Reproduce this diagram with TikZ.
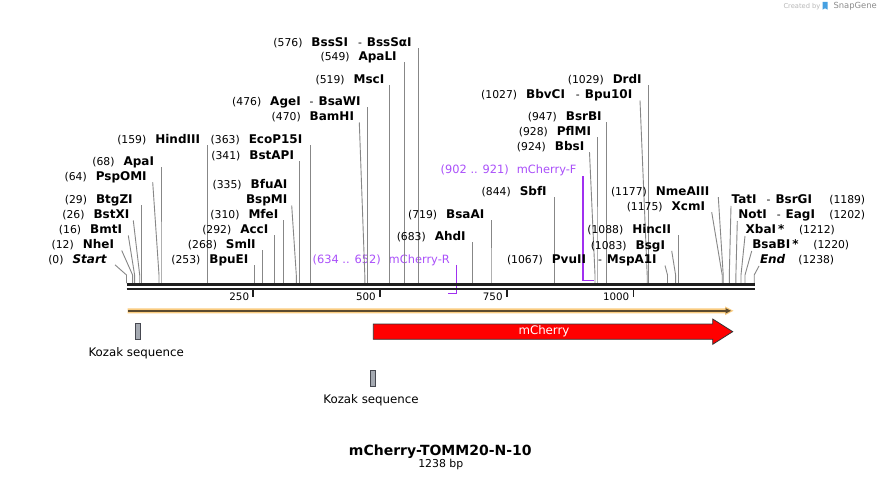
\documentclass[tikz,border=0pt]{standalone}
\usepackage{fontspec}
\setmainfont{DejaVu Sans}
\usetikzlibrary{calc}
\definecolor{conncol}{RGB}{135,135,135}
\definecolor{purp}{RGB}{160,48,240}
\definecolor{purptext}{RGB}{170,80,250}
\definecolor{orangeband}{RGB}{250,204,128}
\definecolor{brownline}{RGB}{92,74,46}
\definecolor{kozfill}{RGB}{165,170,178}
\definecolor{kozdraw}{RGB}{70,72,80}
\definecolor{sgblue}{RGB}{70,160,225}
\newcommand{\enzname}[1]{{\fontsize{12}{13}\selectfont\bfseries #1}}
\newcommand{\EnzL}[6]{%
  \node[lab, anchor=base east] (#1) at (#2,#3) {#6};
  \coordinate (#1-b) at (#4,283);
  \draw[conn] (#1-b) -- (#4,275) -- (#5,#3+1.5);
}
\newcommand{\EnzR}[8]{%
  \node[lab, anchor=base west] (#1) at (#2,#3) {#6};
  \node[lab, anchor=base west] (#1n) at (#7,#3) {#8};
  \coordinate (#1-b) at (#4,283);
  \draw[conn] (#1-b) -- (#4,275) -- (#5,#3+2);
}
\tikzset{
  lab/.style={font=\fontsize{10.8}{12}\selectfont, text=black, inner sep=0pt, outer sep=0pt},
  conn/.style={draw=conncol, line width=0.9pt},
  primlab/.style={font=\fontsize{11.4}{12}\selectfont, text=purptext, inner sep=0pt},
  primline/.style={draw=purp, line width=1.3pt},
  ticklab/.style={font=\fontsize{10.3}{12}\selectfont, inner sep=0pt},
  seqline/.style={draw=black!88, line width=2.7pt},
  tickmark/.style={draw=black!88, line width=1.7pt},
  kozbox/.style={draw=kozdraw, fill=kozfill, line width=0.8pt, minimum width=5.2pt, minimum height=15.8pt, inner sep=0pt},
  featlab/.style={font=\fontsize{11.8}{13}\selectfont, inner sep=0pt}
}
\begin{document}
\begin{tikzpicture}[x=1pt,y=-1pt]
\useasboundingbox (0,0) rectangle (881,481);
\fill[white] (0,0) rectangle (881,481);

% watermark
\node[anchor=base west, text=black!28, font=\fontsize{6.7}{8}\selectfont, inner sep=0pt] (cb) at (783.3,8.7) {Created by};
\fill[sgblue] (822.7,1.8) -- (827.5,1.8) -- (827.5,9.6) -- (825,8.2) -- (822.7,9.6) -- cycle;
\node[anchor=base west, text=black!45, font=\fontsize{8.4}{10}\selectfont, inner sep=0pt] (sg) at (833.3,8.7) {SnapGene};

% primers (drawn under the sequence line)
\node[primlab, anchor=base east] (pR) at (450,263.3) {(634 .. 652)\hspace{8pt}mCherry-R};
\coordinate (pRa) at (456.7,265);
\coordinate (pRb) at (456.7,293.5);
\coordinate (pRc) at (447.5,293.5);
\draw[primline] (pRa) -- (pRb) -- (pRc);
\node[primlab, anchor=base east] (pF) at (576.7,173.3) {(902 .. 921)\hspace{8pt}mCherry-F};
\coordinate (pFa) at (583,176.5);
\coordinate (pFb) at (583,280.7);
\coordinate (pFc) at (593.5,280.7);
\draw[primline] (pFa) -- (pFb) -- (pFc);

% enzymes, left-hand labels
\EnzL{e0}{106.7}{263.3}{126.5}{115}{(0)\hspace{9pt}\enzname{\itshape Start}}
\EnzL{e12}{114}{249}{132.6}{121.7}{(12)\hspace{9pt}\enzname{NheI}}
\EnzL{e16}{122}{234}{134.6}{128.3}{(16)\hspace{9pt}\enzname{BmtI}}
\EnzL{e26}{129.3}{219}{139.7}{133.3}{(26)\hspace{9pt}\enzname{BstXI}}
\EnzL{e29}{132.7}{204}{141.2}{141.2}{(29)\hspace{9pt}\enzname{BtgZI}}
\EnzL{e64}{146.7}{180.7}{159}{152.7}{(64)\hspace{9pt}\enzname{PspOMI}}
\EnzL{e68}{154}{165.7}{161}{161}{(68)\hspace{9pt}\enzname{ApaI}}
\EnzL{e159}{200}{144}{207.1}{207.1}{(159)\hspace{9pt}\enzname{HindIII}}
\EnzL{e253}{248.3}{264}{254.8}{254.8}{(253)\hspace{9pt}\enzname{BpuEI}}
\EnzL{e268}{255.7}{249}{262.4}{262.4}{(268)\hspace{9pt}\enzname{SmlI}}
\EnzL{e292}{268.3}{234}{274.5}{274.5}{(292)\hspace{9pt}\enzname{AccI}}
\EnzL{e310}{278.3}{219}{283.7}{283.7}{(310)\hspace{9pt}\enzname{MfeI}}
\node[lab, anchor=base east] (e335a) at (287.3,189) {(335)\hspace{9pt}\enzname{BfuAI}};
\EnzL{e335}{287.3}{204}{296.3}{291.7}{\enzname{BspMI}}
\EnzL{e341}{294}{159.3}{299.4}{299.4}{(341)\hspace{9pt}\enzname{BstAPI}}
\EnzL{e363}{302.3}{144}{310.5}{310.5}{(363)\hspace{9pt}\enzname{EcoP15I}}
\EnzL{e470}{354}{121}{364.8}{359.3}{(470)\hspace{9pt}\enzname{BamHI}}
\EnzL{e476}{360.7}{106}{367.8}{367.8}{(476)\hspace{9pt}\enzname{AgeI}\hspace{9pt}-\hspace{5pt}\enzname{BsaWI}}
\EnzL{e519}{384.3}{84}{389.6}{389.6}{(519)\hspace{9pt}\enzname{MscI}}
\EnzL{e549}{396.7}{60.7}{404.8}{404.8}{(549)\hspace{9pt}\enzname{ApaLI}}
\EnzL{e576}{411.7}{46.7}{418.5}{418.5}{(576)\hspace{9pt}\enzname{BssSI}\hspace{10pt}-\hspace{5pt}\enzname{BssSαI}}
\EnzL{e683}{465.7}{241}{472.8}{472.8}{(683)\hspace{9pt}\enzname{AhdI}}
\EnzL{e719}{484.3}{218.3}{491}{491}{(719)\hspace{9pt}\enzname{BsaAI}}
\EnzL{e844}{546.7}{195.7}{554.4}{554.4}{(844)\hspace{9pt}\enzname{SbfI}}
\EnzL{e924}{584.3}{150.7}{595}{589.5}{(924)\hspace{9pt}\enzname{BbsI}}
\EnzL{e928}{591}{135.7}{597}{597}{(928)\hspace{9pt}\enzname{PflMI}}
\EnzL{e947}{601.7}{120.7}{606.6}{606.6}{(947)\hspace{9pt}\enzname{BsrBI}}
\EnzL{e1027}{632.3}{99}{647.2}{640}{(1027)\hspace{9pt}\enzname{BbvCI}\hspace{11pt}-\hspace{5pt}\enzname{Bpu10I}}
\EnzL{e1029}{641.7}{84}{648.2}{648.2}{(1029)\hspace{9pt}\enzname{DrdI}}
\EnzL{e1067}{656.7}{264}{667.5}{665}{(1067)\hspace{9pt}\enzname{PvuII}\hspace{12pt}-\hspace{5pt}\enzname{MspA1I}}
\EnzL{e1083}{665}{249.3}{675.6}{671.7}{(1083)\hspace{9pt}\enzname{BsgI}}
\EnzL{e1088}{671}{233.3}{678.1}{678.1}{(1088)\hspace{9pt}\enzname{HincII}}
\EnzL{e1175}{705}{210.7}{722.2}{711.7}{(1175)\hspace{9pt}\enzname{XcmI}}
\EnzL{e1177}{709.3}{195.7}{723.2}{718.3}{(1177)\hspace{9pt}\enzname{NmeAIII}}

% enzymes, right-hand labels
\EnzR{e1189}{731.7}{204}{729.3}{731}{\enzname{TatI}\hspace{10pt}-\hspace{5pt}\enzname{BsrGI}}{829.3}{(1189)}
\EnzR{e1202}{738.3}{219}{735.9}{737.3}{\enzname{NotI}\hspace{10pt}-\hspace{5pt}\enzname{EagI}}{829.3}{(1202)}
\EnzR{e1212}{745.7}{234}{741}{745}{\enzname{XbaI\,*}}{799}{(1212)}
\EnzR{e1220}{752.3}{249}{745}{751.7}{\enzname{BsaBI\,*}}{813.3}{(1220)}
\EnzR{e1238}{760}{264}{754.2}{759}{\enzname{\itshape End}}{798.3}{(1238)}

% sequence line
\coordinate (s0) at (126.5,284.7);
\coordinate (s1) at (754.5,284.7);
\coordinate (t0) at (126.5,289);
\coordinate (t1) at (754.5,289);
\draw[seqline] (s0) -- (s1);
\draw[seqline] (t0) -- (t1);

% ticks
\foreach \p/\xx in {250/253.3, 500/380, 750/506.8, 1000/633.5}{
  \draw[tickmark] (\xx,290) -- (\xx,297);
  \node[ticklab, anchor=base east] at (\xx-4,300) {\p};
}

% ORF (orange)
\fill[orangeband] (127.5,308.3) -- (725,308.3) -- (725,306.4) -- (733.5,310.8) -- (725,315.2) -- (725,313.3) -- (127.5,313.3) -- cycle;
\draw[brownline, line width=1.6pt] (128,310.8) -- (727,310.8);
\fill[brownline] (725.5,308.1) -- (731,310.8) -- (725.5,313.5) -- cycle;

% mCherry feature
\draw[fill=red, draw=black!80, line width=0.8pt] (373.3,324) -- (712.7,324) -- (712.7,319) -- (732.7,331.65) -- (712.7,344.3) -- (712.7,339.3) -- (373.3,339.3) -- cycle;
\node[featlab, text=white] (mch) at (544,331.6) {mCherry};

% Kozak sequences
\node[kozbox] (k1) at (137.9,331.4) {};
\node[featlab, anchor=base] (k1l) at (136.2,356.7) {Kozak sequence};
\node[kozbox] (k2) at (373,378.2) {};
\node[featlab, anchor=base] (k2l) at (371,403.3) {Kozak sequence};

% title
\node[anchor=base, font=\fontsize{14}{16}\selectfont\bfseries, inner sep=0pt] (title) at (440.3,455) {mCherry-TOMM20-N-10};
\node[anchor=base, font=\fontsize{10.9}{12}\selectfont, inner sep=0pt] (len) at (440.8,467.2) {1238 bp};
\end{tikzpicture}
\end{document}
